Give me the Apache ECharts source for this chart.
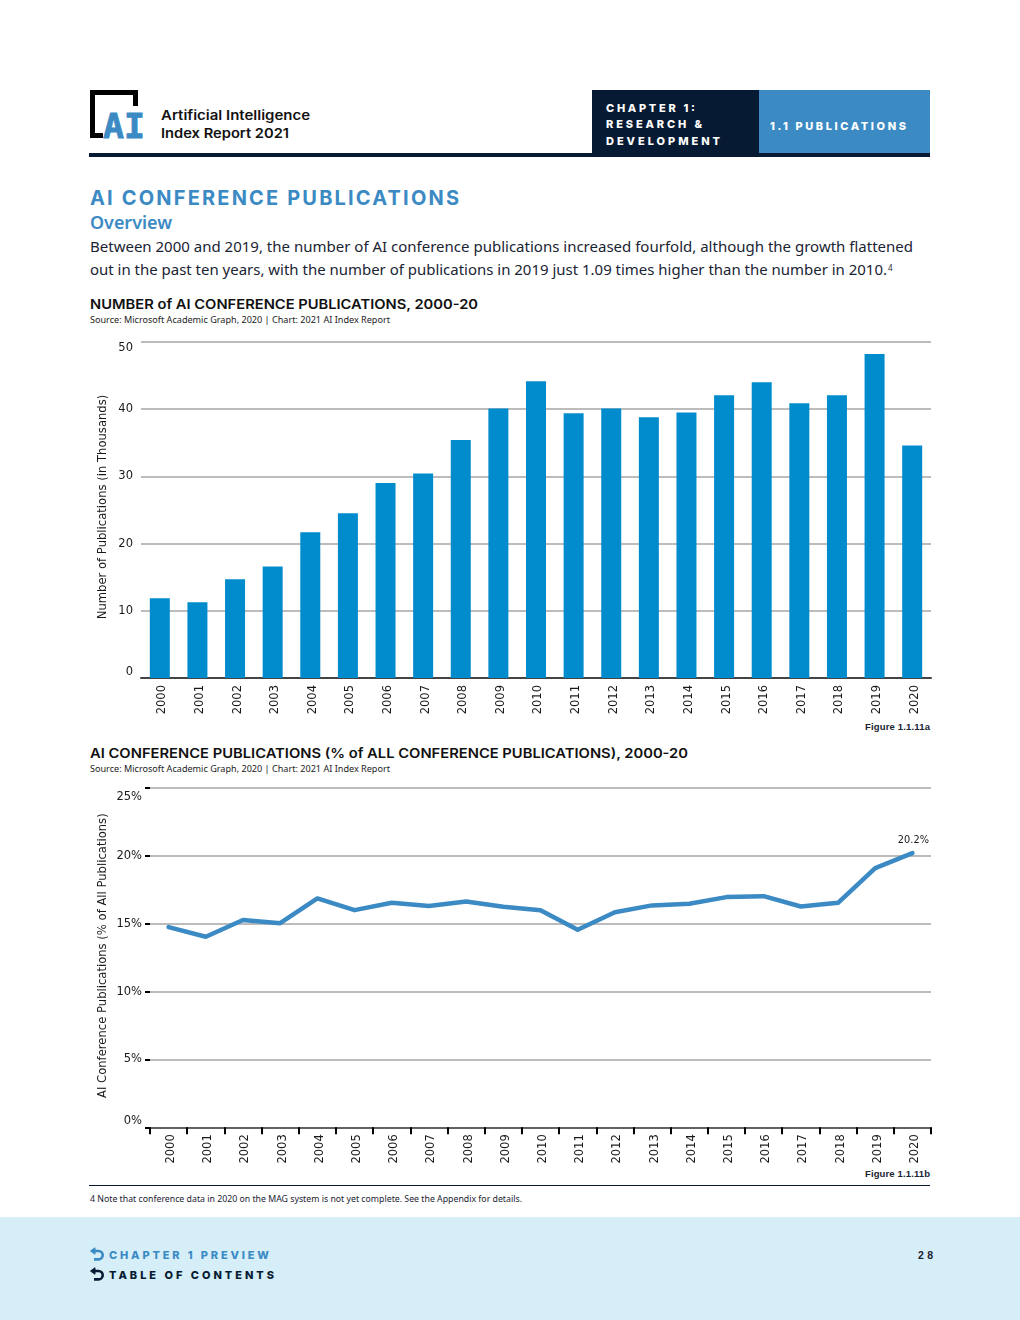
<!DOCTYPE html>
<html><head><meta charset="utf-8">
<style>
html,body{margin:0;padding:0;background:#fff;width:1020px;height:1320px;overflow:hidden}
#page{position:absolute;left:0;top:0}
#chart{position:absolute;left:0;top:0;width:1020px;height:1320px}
.head{font-family:Inter;font-weight:600}
.plex{font-family:"Noto Sans"}
</style>
<script src="https://cdn.jsdelivr.net/npm/echarts@6/dist/echarts.min.js"></script>
</head><body>
<svg id="page" width="1020" height="1320" viewBox="0 0 1020 1320">
  <rect x="0" y="1217" width="1020" height="103" fill="#d5eef8"/>
  <path d="M92.5 138V92.5H135.5V106" fill="none" stroke="#000" stroke-width="5"/>
  <rect x="90" y="133" width="13" height="5" fill="#000"/>
  <text x="103" y="138" font-size="34" fill="#3b8ac4" stroke="#3b8ac4" stroke-width="0.8" textLength="42" lengthAdjust="spacingAndGlyphs" style="font-family:'DejaVu Sans Mono';font-weight:700">AI</text>
  <text x="161" y="120" font-size="13" fill="#111" textLength="149" lengthAdjust="spacingAndGlyphs" class="head">Artificial Intelligence</text>
  <text x="161" y="138" font-size="13" fill="#111" textLength="128" lengthAdjust="spacingAndGlyphs" class="head">Index Report 2021</text>
  <rect x="592" y="90" width="167" height="64" fill="#061b33"/>
  <rect x="759" y="90" width="171" height="64" fill="#3b8ac4"/>
  <rect x="89" y="153" width="841" height="4" fill="#061b33"/>
  <g font-size="11" fill="#fff" style="font-family:Inter;font-weight:800">
    <text x="606" y="112" textLength="89" lengthAdjust="spacing">CHAPTER 1:</text>
    <text x="606" y="128" textLength="96" lengthAdjust="spacing">RESEARCH &amp;</text>
    <text x="606" y="145" textLength="114" lengthAdjust="spacing">DEVELOPMENT</text>
    <text x="770" y="130" textLength="136" lengthAdjust="spacing">1.1 PUBLICATIONS</text>
  </g>
  <text x="90" y="205" font-size="20" fill="#3b8ac4" textLength="369" lengthAdjust="spacing" style="font-family:Inter;font-weight:700">AI CONFERENCE PUBLICATIONS</text>
  <text x="90" y="229" font-size="18" fill="#3b8ac4" textLength="82" lengthAdjust="spacingAndGlyphs" class="plex" font-weight="600">Overview</text>
  <text x="90" y="252" font-size="15" fill="#1a2433" textLength="823" lengthAdjust="spacingAndGlyphs" class="plex">Between 2000 and 2019, the number of AI conference publications increased fourfold, although the growth flattened</text>
  <text x="90" y="275" font-size="15" fill="#1a2433" textLength="797" lengthAdjust="spacingAndGlyphs" class="plex">out in the past ten years, with the number of publications in 2019 just 1.09 times higher than the number in 2010.</text>
  <text x="888" y="271" font-size="8" fill="#1a2433" class="plex">4</text>
  <text x="90" y="309" font-size="13" fill="#111" textLength="388" lengthAdjust="spacingAndGlyphs" class="head">NUMBER of AI CONFERENCE PUBLICATIONS, 2000-20</text>
  <text x="90" y="323" font-size="9.5" fill="#222" textLength="300" lengthAdjust="spacingAndGlyphs" class="plex">Source: Microsoft Academic Graph, 2020 | Chart: 2021 AI Index Report</text>
  <text x="930" y="730" font-size="9.5" fill="#1a2433" text-anchor="end" textLength="65" lengthAdjust="spacing" style="font-family:'Liberation Sans';font-weight:700">Figure 1.1.11a</text>
  <text x="90" y="758" font-size="13" fill="#111" textLength="598" lengthAdjust="spacingAndGlyphs" class="head">AI CONFERENCE PUBLICATIONS (% of ALL CONFERENCE PUBLICATIONS), 2000-20</text>
  <text x="90" y="772" font-size="9.5" fill="#222" textLength="300" lengthAdjust="spacingAndGlyphs" class="plex">Source: Microsoft Academic Graph, 2020 | Chart: 2021 AI Index Report</text>
  <text x="930" y="1177" font-size="9.5" fill="#1a2433" text-anchor="end" textLength="65" lengthAdjust="spacing" style="font-family:'Liberation Sans';font-weight:700">Figure 1.1.11b</text>
  <rect x="89" y="1185" width="841" height="1" fill="#061b33"/>
  <text x="90" y="1202" font-size="9" fill="#1a2433" textLength="432" lengthAdjust="spacingAndGlyphs" class="plex">4 Note that conference data in 2020 on the MAG system is not yet complete. See the Appendix for details.</text>
  <g fill="none" stroke-width="2.6">
    <path d="M94 1251H98.5A4.2 4.2 0 0 1 98.5 1259.4H94" stroke="#3b8ac4"/>
    <path d="M90.5 1251L95 1247.8V1254.2Z" fill="#3b8ac4" stroke="#3b8ac4" stroke-width="1"/>
    <path d="M94 1271H98.5A4.2 4.2 0 0 1 98.5 1279.4H94" stroke="#061b33"/>
    <path d="M90.5 1271L95 1267.8V1274.2Z" fill="#061b33" stroke="#061b33" stroke-width="1"/>
  </g>
  <text x="109" y="1259" font-size="11" fill="#3b8ac4" textLength="160" lengthAdjust="spacing" style="font-family:Inter;font-weight:800">CHAPTER 1 PREVIEW</text>
  <text x="109" y="1279" font-size="11" fill="#061b33" textLength="165" lengthAdjust="spacing" style="font-family:Inter;font-weight:800">TABLE OF CONTENTS</text>
  <text x="933" y="1259" font-size="10.5" fill="#1a2433" text-anchor="end" textLength="15" lengthAdjust="spacing" style="font-family:'Liberation Sans';font-weight:700">28</text>
</svg>
<div id="chart"></div>
<script>
const years = ["2000","2001","2002","2003","2004","2005","2006","2007","2008","2009","2010","2011","2012","2013","2014","2015","2016","2017","2018","2019","2020"];
const publications = [11.85,11.26,14.68,16.6,21.7,24.5,29.0,30.45,35.4,40.1,44.15,39.4,40.1,38.8,39.5,42.06,44.0,40.87,42.06,48.2,34.6];
const sharePct = [14.75,14.04,15.27,15.04,16.86,16.0,16.54,16.3,16.64,16.25,16.0,14.55,15.85,16.35,16.47,16.96,17.03,16.27,16.54,19.1,20.2];
const shareEndLabel = "20.2%";
const barAxisName = "Number of Publications (in Thousands)";
const lineAxisName = "AI Conference Publications (% of All Publications)";

const tickFont = {fontFamily:"DejaVu Sans",fontSize:11.5,color:"#1a1a1a"};
const xLabel = () => Object.assign({},tickFont,{rotate:90,margin:7,interval:0,verticalAlign:"top",lineHeight:5});
const grid = {color:"#bcbcbc",width:2};
const chart = echarts.init(document.getElementById("chart"),null,{renderer:"canvas"});
chart.setOption({
  animation:false,
  backgroundColor:"transparent",
  grid:[
    {left:141,right:89,top:342,height:336},
    {left:150,right:89,top:788,height:339.3}
  ],
  xAxis:[
    {type:"category",gridIndex:0,data:years,axisTick:{show:false},
     axisLine:{lineStyle:{color:"#444",width:2}},axisLabel:xLabel()},
    {type:"category",gridIndex:1,data:years,
     axisTick:{show:true,length:7,lineStyle:{color:"#000",width:2}},
     axisLine:{lineStyle:{color:"#444",width:1.5}},axisLabel:xLabel()}
  ],
  yAxis:[
    {type:"value",gridIndex:0,min:0,max:50,interval:10,
     name:barAxisName,nameLocation:"middle",nameGap:32,nameMoveOverlap:false,
     nameTextStyle:{fontFamily:"DejaVu Sans",fontSize:11.6,color:"#1a1a1a",padding:[0,0,0,6]},
     axisLine:{show:false},axisTick:{show:false},splitLine:{lineStyle:grid},
     axisLabel:Object.assign({},tickFont,{margin:8,verticalAlignMinLabel:"bottom",verticalAlignMaxLabel:"top"})},
    {type:"value",gridIndex:1,min:0,max:25,interval:5,
     name:lineAxisName,nameLocation:"middle",nameGap:41,nameMoveOverlap:false,
     nameTextStyle:{fontFamily:"DejaVu Sans",fontSize:11.6,color:"#1a1a1a",padding:[0,0,0,4]},
     axisLine:{show:false},axisTick:{show:true,length:5,lineStyle:{color:"#000",width:2}},splitLine:{lineStyle:grid},
     axisLabel:Object.assign({},tickFont,{margin:8,lineHeight:13,
       formatter:v=>v===25?"{topLabel|"+v+"%}":v+"%",
       rich:{topLabel:{fontFamily:"DejaVu Sans",fontSize:11.5,color:"#1a1a1a",padding:[5,0,0,0]}},
       verticalAlignMinLabel:"bottom",verticalAlignMaxLabel:"top"})}
  ],
  series:[
    {type:"bar",xAxisIndex:0,yAxisIndex:0,data:publications,barWidth:20,itemStyle:{color:"#008ccc"}},
    {type:"line",xAxisIndex:1,yAxisIndex:1,
     data:sharePct.map((v,i)=>i===sharePct.length-1?{value:v,label:{show:true,position:"top",distance:7,offset:[1,0],formatter:shareEndLabel,fontFamily:"DejaVu Sans",fontSize:9.8,color:"#1a1a1a"}}:v),
     symbol:"circle",symbolSize:1,showSymbol:true,showAllSymbol:true,
     itemStyle:{color:"#3b8ac4"},
     lineStyle:{color:"#3b8ac4",width:4.5,cap:"round",join:"round"}}
  ]
});
</script>
</body></html>
